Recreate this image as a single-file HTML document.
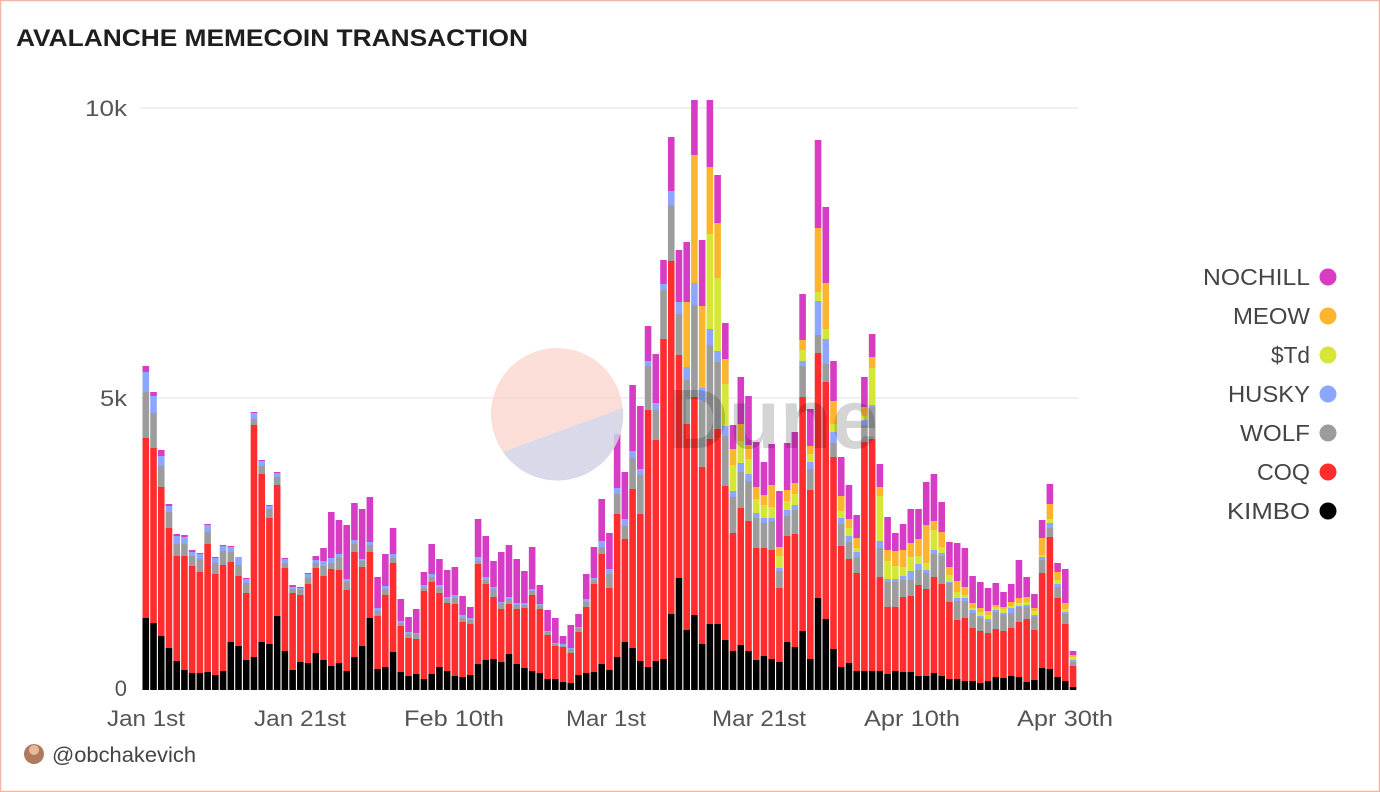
<!DOCTYPE html>
<html><head><meta charset="utf-8"><style>
html,body{margin:0;padding:0;background:#fff;}
body{width:1380px;height:792px;overflow:hidden;font-family:"Liberation Sans",sans-serif;}
</style></head><body>
<svg id="s" width="1380" height="792" xmlns="http://www.w3.org/2000/svg" style="display:block">
<rect x="0.5" y="0.5" width="1379" height="791" fill="#fff" stroke="#f3b6a6" stroke-width="1.5"/>
<text x="16" y="46" font-family="Liberation Sans, sans-serif" font-weight="bold" font-size="24" fill="#1e1e1e" textLength="512" lengthAdjust="spacingAndGlyphs">AVALANCHE MEMECOIN TRANSACTION</text>
<line x1="140" y1="108" x2="1078" y2="108" stroke="#ececec" stroke-width="1.5"/>
<line x1="140" y1="398" x2="1078" y2="398" stroke="#ececec" stroke-width="1.5"/>
<g font-family="Liberation Sans, sans-serif" font-size="22" fill="#555" text-anchor="end">
<text x="127" y="116" textLength="42" lengthAdjust="spacingAndGlyphs">10k</text><text x="127" y="406" textLength="27" lengthAdjust="spacingAndGlyphs">5k</text><text x="127" y="696">0</text>
</g>
<g font-family="Liberation Sans, sans-serif" font-size="22" fill="#555" text-anchor="middle" lengthAdjust="spacingAndGlyphs">
<text x="146" y="726" textLength="78" lengthAdjust="spacingAndGlyphs">Jan 1st</text>
<text x="300" y="726" textLength="92" lengthAdjust="spacingAndGlyphs">Jan 21st</text>
<text x="454" y="726" textLength="100" lengthAdjust="spacingAndGlyphs">Feb 10th</text>
<text x="606" y="726" textLength="80" lengthAdjust="spacingAndGlyphs">Mar 1st</text>
<text x="759" y="726" textLength="94" lengthAdjust="spacingAndGlyphs">Mar 21st</text>
<text x="912" y="726" textLength="96" lengthAdjust="spacingAndGlyphs">Apr 10th</text>
<text x="1065" y="726" textLength="96" lengthAdjust="spacingAndGlyphs">Apr 30th</text>
</g>
<g id="bars"></g>
<g opacity="0.85">
<circle cx="557" cy="414" r="66" fill="#fbd9d1"/>
<path d="M503,452 L623,408 A66,66 0 0 1 503,452 Z" fill="#d4d3e6"/>
</g>
<text x="668" y="448" font-family="Liberation Sans, sans-serif" font-weight="bold" font-size="84" fill="#000" fill-opacity="0.17">Dune</text>
<g font-family="Liberation Sans, sans-serif" font-size="23" fill="#444" text-anchor="end">
<text x="1310" y="285" textLength="107" lengthAdjust="spacingAndGlyphs">NOCHILL</text>
<text x="1310" y="324" textLength="77" lengthAdjust="spacingAndGlyphs">MEOW</text>
<text x="1310" y="363" textLength="39" lengthAdjust="spacingAndGlyphs">$Td</text>
<text x="1310" y="402" textLength="82" lengthAdjust="spacingAndGlyphs">HUSKY</text>
<text x="1310" y="441" textLength="70" lengthAdjust="spacingAndGlyphs">WOLF</text>
<text x="1310" y="480" textLength="53" lengthAdjust="spacingAndGlyphs">COQ</text>
<text x="1310" y="519" textLength="83" lengthAdjust="spacingAndGlyphs">KIMBO</text>
</g>
<circle cx="1328" cy="277" r="8.5" fill="#d63cc4"/><circle cx="1328" cy="316" r="8.5" fill="#fbb52f"/>
<circle cx="1328" cy="355" r="8.5" fill="#d5e637"/><circle cx="1328" cy="394" r="8.5" fill="#8da6ff"/>
<circle cx="1328" cy="433" r="8.5" fill="#9c9c9c"/><circle cx="1328" cy="472" r="8.5" fill="#ff2d2d"/>
<circle cx="1328" cy="511" r="8.5" fill="#000"/>
<circle cx="34" cy="754" r="10" fill="#b07a5e"/><circle cx="34" cy="750" r="5" fill="#e7b99a"/>
<text x="52" y="762" font-family="Liberation Sans, sans-serif" font-size="21" fill="#444" textLength="144" lengthAdjust="spacingAndGlyphs">@obchakevich</text>
</svg>
<script>
var D=[
[618,438,392,372,372,372,366],[623,448,413,396,396,396,392],[636,487,466,456,456,456,450],[648,528,512,506,506,506,504],
[661,556,544,536,536,536,534],[670,556,544,537,537,537,535],[673,566,556,552,552,552,550],[673,572,559,554,554,554,553],
[672,544,532,525,525,525,524],[675,574,563,558,558,558,557],[671,565,551,546,546,546,545],[642,562,552,547,547,547,546],
[646,576,565,557,557,557,557],[660,593,583,579,579,579,578],[657,425,419,413,413,413,412],[642,474,466,461,461,461,460],
[644,518,509,506,506,506,505],[616,485,477,473,473,473,472],[651,568,563,559,559,559,558],[670,593,589,587,587,587,585],
[662,595,590,588,588,588,587],[663,584,578,574,574,574,573],[653,568,563,560,560,560,556],[660,576,566,561,561,561,548],
[666,569,563,558,558,558,512],[663,570,558,554,554,554,520],[671,590,582,579,579,579,525],[657,552,544,540,540,540,503],
[646,567,561,559,559,559,509],[618,552,545,542,542,542,497],[669,616,611,608,608,608,577],[667,595,589,586,586,586,554],
[652,563,558,554,554,554,528],[672,626,623,621,621,621,599],[676,638,634,632,632,632,617],[674,639,634,633,633,633,609],
[679,591,588,585,585,585,572],[674,582,577,574,574,574,544],[667,593,588,585,585,585,559],[671,603,599,597,597,597,570],
[676,604,598,595,595,595,567],[677,622,618,615,615,615,596],[675,624,620,618,618,618,607],[664,564,561,557,557,557,519],
[660,584,580,577,577,577,536],[659,597,589,587,587,587,561],[662,609,603,602,602,602,552],[654,604,599,597,597,597,545],
[664,609,605,603,603,603,559],[668,608,605,603,603,603,571],[671,595,591,589,589,589,547],[673,609,606,604,604,604,585],
[679,635,632,631,631,631,610],[679,646,644,643,643,643,618],[682,647,646,644,644,644,636],[683,653,649,648,648,648,625],
[675,632,628,627,627,627,614],[673,607,602,599,599,599,574],[672,584,580,578,578,578,547],[664,554,547,541,541,541,499],
[670,588,574,569,569,569,533],[657,514,494,488,488,488,434],[642,539,526,519,519,519,472],[648,489,458,451,451,451,385],
[661,514,475,469,469,469,406],[667,410,366,361,361,361,326],[661,440,410,403,403,403,354],[659,339,290,284,284,284,260],
[614,261,205,191,191,191,137],[578,355,314,302,302,302,250],[630,424,380,367,367,302,242],[615,397,305,283,283,155,100],
[644,467,401,388,388,306,240],[624,439,345,329,234,167,100],[624,429,362,351,278,223,175],[640,486,436,426,384,359,323],
[651,533,497,491,465,449,425],[645,508,472,463,441,424,377],[651,521,481,474,459,445,396],[660,548,518,513,499,487,442],
[656,548,523,518,505,495,462],[659,550,521,518,507,485,444],[662,588,571,568,556,547,491],[642,536,516,510,501,490,443],
[647,534,510,505,494,483,432],[631,397,366,361,350,340,294],[659,490,469,462,454,446,409],[598,353,335,301,292,228,140],
[619,382,364,339,329,283,207],[649,457,443,432,424,401,361],[667,546,524,518,511,496,457],[663,559,542,536,528,519,485],
[671,573,557,552,548,538,515],[671,442,425,420,416,407,377],[671,439,407,405,368,357,334],[671,577,548,541,496,487,464],
[674,607,582,579,561,550,517],[671,607,582,579,566,551,533],[672,597,580,576,567,550,524],[672,596,580,571,557,543,509],
[676,585,570,564,556,539,509],[676,589,573,570,563,525,482],[673,577,554,550,530,521,474],[676,584,556,553,547,532,502],
[679,602,583,582,575,567,542],[679,620,601,598,592,581,543],[681,618,601,598,595,587,548],[681,628,613,610,608,603,576],
[683,631,618,616,612,608,582],[681,633,622,619,615,611,588],[677,629,612,610,607,605,583],[678,631,615,613,609,607,592],
[676,628,613,608,606,602,584],[677,622,607,606,603,598,560],[682,619,607,605,602,597,577],[680,630,617,615,611,608,594],
[668,573,560,557,555,538,520],[669,537,528,523,519,504,484],[677,598,587,584,580,572,563],[681,624,614,612,609,603,569],
[687,666,662,660,657,655,651]];
var C=["#000","#ff2d2d","#9c9c9c","#8da6ff","#d5e637","#fbb52f","#d63cc4"];
var g=document.getElementById("bars"),h="";
for(var i=0;i<D.length;i++){var x=(142.5+i*7.727).toFixed(2),prev=690;
for(var j=0;j<7;j++){var t=D[i][j];if(prev-t>0.1){h+='<rect x="'+x+'" y="'+t+'" width="6.6" height="'+(prev-t)+'" fill="'+C[j]+'"/>';}prev=t;}}
g.innerHTML=h;
</script>
</body></html>
